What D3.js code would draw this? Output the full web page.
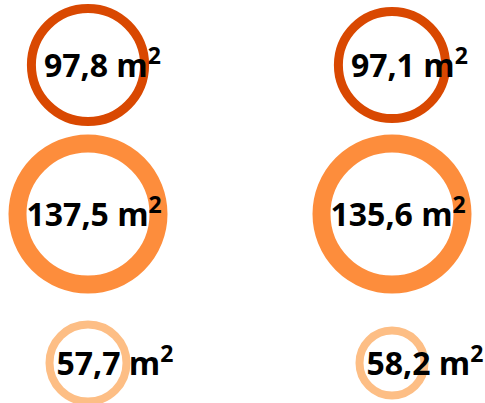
<!DOCTYPE html>
<html>
<head>
<meta charset="utf-8">
<script src="https://cdn.jsdelivr.net/npm/d3@7"></script>
<style>
  html, body { margin: 0; padding: 0; background: #fff; }
</style>
</head>
<body>
<svg id="chart" width="485" height="403"></svg>
<script>
// values, column by column (top, middle, bottom row)
const columns = ["A", "B"];
const rows = ["top", "middle", "bottom"];
const valuesA = [97.8, 137.5, 57.7];
const valuesB = [97.1, 135.6, 58.2];
const unit = "m";

const width = 485;
const height = 403;

// row styles
const rowColors = ["#d94801", "#fd8d3c", "#fdbe85"];
const rowStroke = [9, 18, 8];
const rowPad = [17, 18, 11];

const svg = d3.select("#chart");

const x = d3.scalePoint()
  .domain(columns)
  .range([88, 392]);

const y = d3.scalePoint()
  .domain(rows)
  .range([65, 363]);

// outer radius, one scale per column
const radius = {
  A: d3.scaleLinear().domain(d3.extent(valuesA)).range([42.5, 79.5]),
  B: d3.scaleLinear().domain(d3.extent(valuesB)).range([36.5, 79.5])
};

const fmt = v => v.toFixed(1).replace(".", ",");

const data = [];
columns.forEach((c, ci) => {
  const vals = ci === 0 ? valuesA : valuesB;
  rows.forEach((r, ri) => {
    data.push({ col: c, row: r, ri, value: vals[ri] });
  });
});

const g = svg.selectAll("g.item")
  .data(data)
  .join("g")
  .attr("class", "item")
  .attr("transform", d => `translate(${x(d.col)},${y(d.row)})`);

g.append("circle")
  .attr("r", d => radius[d.col](d.value) - rowStroke[d.ri] / 2)
  .attr("fill", "none")
  .attr("stroke", d => rowColors[d.ri])
  .attr("stroke-width", d => rowStroke[d.ri]);

const label = g.append("text")
  .attr("x", d => -radius[d.col](d.value) + rowPad[d.ri])
  .attr("y", 12)
  .attr("font-family", "'Open Sans', sans-serif")
  .attr("font-weight", "bold")
  .attr("font-size", 32)
  .attr("fill", "#000");

label.append("tspan").text(d => `${fmt(d.value)} ${unit}`);
label.append("tspan")
  .attr("dy", -13)
  .attr("font-size", 23)
  .text("2");
</script>
</body>
</html>
